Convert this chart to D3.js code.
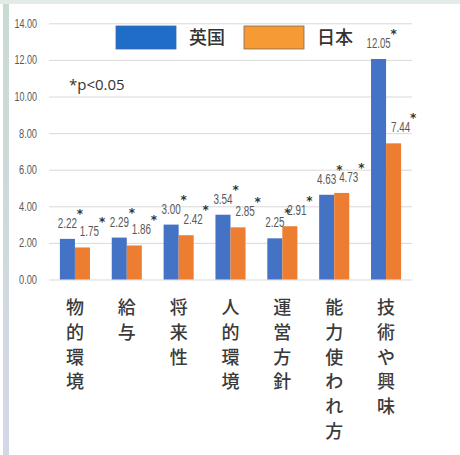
<!DOCTYPE html>
<html>
<head>
<meta charset="utf-8">
<script src="https://cdn.jsdelivr.net/npm/d3@7"></script>
<style>
  body { margin: 0; background: #fff; }
  .tick text { font-family: "Liberation Sans", sans-serif; font-size: 12.5px; fill: #595959; }
  .grid line { stroke: #d9d9d9; }
</style>
</head>
<body>
<script>
//data
const categories = ["物的環境", "給与", "将来性", "人的環境", "運営方針", "能力使われ方", "技術や興味"];
const seriesNames = ["英国", "日本"];
const ukValues = [2.22, 2.29, 3.00, 3.54, 2.25, 4.63, 12.05];
const jpValues = [1.75, 1.86, 2.42, 2.85, 2.91, 4.73, 7.44];
const ukSig = [true, true, true, true, true, true, true];
const jpSig = [true, true, true, true, true, true, true];
const yTicks = [0, 2, 4, 6, 8, 10, 12, 14];

const w = 460, h = 455;
const mLeft = 49, mRight = 412, mTop = 23.3, mBottom = 279.5;
const barColors = ["#4472c4", "#ed7d31"];
const legendColors = ["#1f6dc6", "#f59a35"];
const narrow = (s, k) => s.length * k; //squeeze text like a condensed font

const svg = d3.select("body").append("svg")
  .attr("width", w).attr("height", h);

//frame like the screenshot
const grad = svg.append("defs").append("linearGradient")
  .attr("id", "edge").attr("x1", 0).attr("y1", 0).attr("x2", 0).attr("y2", 1);
grad.append("stop").attr("offset", "0%").attr("stop-color", "#c9dbd1");
grad.append("stop").attr("offset", "100%").attr("stop-color", "#d3d8e8");
svg.append("rect").attr("x", 3).attr("y", 0).attr("width", 6).attr("height", h).attr("fill", "url(#edge)");
svg.append("rect").attr("x", 0).attr("y", 0).attr("width", w).attr("height", 4).attr("fill", "#e3ebe7");

//scales
const yScale = d3.scaleLinear().domain([0, 14]).range([mBottom, mTop]);
const xScale = d3.scaleBand().domain(categories).range([mLeft, mRight])
  .paddingInner(0.42).paddingOuter(0.21);
const xSub = d3.scaleBand().domain(seriesNames).range([0, xScale.bandwidth()]);

//grid + left axis
svg.append("g").attr("class", "grid")
  .attr("transform", "translate(" + mLeft + ",0)")
  .call(d3.axisLeft(yScale).tickValues(yTicks).tickSize(-(mRight - mLeft)).tickFormat(""))
  .call(g => g.select(".domain").remove());

svg.append("g")
  .attr("transform", "translate(" + (mLeft - 9) + ",0)")
  .call(d3.axisLeft(yScale).tickValues(yTicks).tickSize(0).tickFormat(d3.format(".2f")))
  .call(g => g.select(".domain").remove())
  .call(g => g.selectAll(".tick text")
    .attr("textLength", function() { return narrow(this.textContent, 4.5); })
    .attr("lengthAdjust", "spacingAndGlyphs"));

//bars
const rows = categories.map((c, i) => ({
  cat: c,
  vals: [
    { s: seriesNames[0], v: ukValues[i], sig: ukSig[i], k: 0 },
    { s: seriesNames[1], v: jpValues[i], sig: jpSig[i], k: 1 }
  ]
}));

const groups = svg.append("g").selectAll("g").data(rows).join("g")
  .attr("transform", d => "translate(" + xScale(d.cat) + ",0)");

groups.selectAll("rect").data(d => d.vals).join("rect")
  .attr("x", d => xSub(d.s))
  .attr("width", xSub.bandwidth())
  .attr("y", d => yScale(d.v))
  .attr("height", d => yScale(0) - yScale(d.v))
  .attr("fill", d => barColors[d.k]);

//value labels with stars
const labX = d => xSub(d.s) + xSub.bandwidth() / 2 + (d.k === 1 ? 7 : 0);
const labY = d => yScale(d.v) - 11;

groups.selectAll("text.val").data(d => d.vals).join("text")
  .attr("class", "val")
  .attr("x", labX)
  .attr("y", labY)
  .attr("text-anchor", "middle")
  .attr("textLength", d => narrow(d.v.toFixed(2), 4.8))
  .attr("lengthAdjust", "spacingAndGlyphs")
  .style("font-family", "'Liberation Sans', sans-serif")
  .style("font-size", "14px")
  .style("fill", "#595959")
  .text(d => d.v.toFixed(2));

groups.selectAll("text.star").data(d => d.vals.filter(v => v.sig)).join("text")
  .attr("class", "star")
  .attr("x", d => labX(d) + narrow(d.v.toFixed(2), 4.8) / 2 + 3)
  .attr("y", d => labY(d) - 10)
  .attr("text-anchor", "middle")
  .style("font-family", "'DejaVu Sans', sans-serif")
  .style("font-size", "12px")
  .style("font-weight", "bold")
  .style("fill", "#333")
  .text("*");

//category labels, vertical
const catText = svg.append("g").selectAll("text").data(categories).join("text")
  .attr("text-anchor", "middle")
  .style("font-family", "'Noto Sans CJK JP', sans-serif")
  .style("font-size", "18px")
  .style("font-weight", "500")
  .style("fill", "#3a3a3a");
catText.selectAll("tspan").data(d => Array.from(d).map(ch => ({ ch, c: d }))).join("tspan")
  .attr("x", d => xScale(d.c) + xScale.bandwidth() / 2)
  .attr("y", (d, i) => 314 + i * 24.8)
  .text(d => d.ch);

//legend
const legend = svg.append("g");
seriesNames.forEach((s, i) => {
  const lx = 116 + i * 128;
  legend.append("rect")
    .attr("x", lx).attr("y", 26).attr("width", 60).attr("height", 23)
    .attr("fill", legendColors[i])
    .attr("stroke", i === 0 ? "#3a6aa8" : "#7f6a55").attr("stroke-width", 0.8);
  legend.append("text")
    .attr("x", lx + 73).attr("y", 44)
    .style("font-family", "'Noto Sans CJK JP', sans-serif")
    .style("font-size", "18px")
    .style("font-weight", "500")
    .style("fill", "#333")
    .text(s);
});

//note
svg.append("text")
  .attr("x", 69).attr("y", 90)
  .style("font-family", "'Open Sans', sans-serif")
  .style("font-size", "15px")
  .style("fill", "#333")
  .text("*p<0.05");
</script>
</body>
</html>
